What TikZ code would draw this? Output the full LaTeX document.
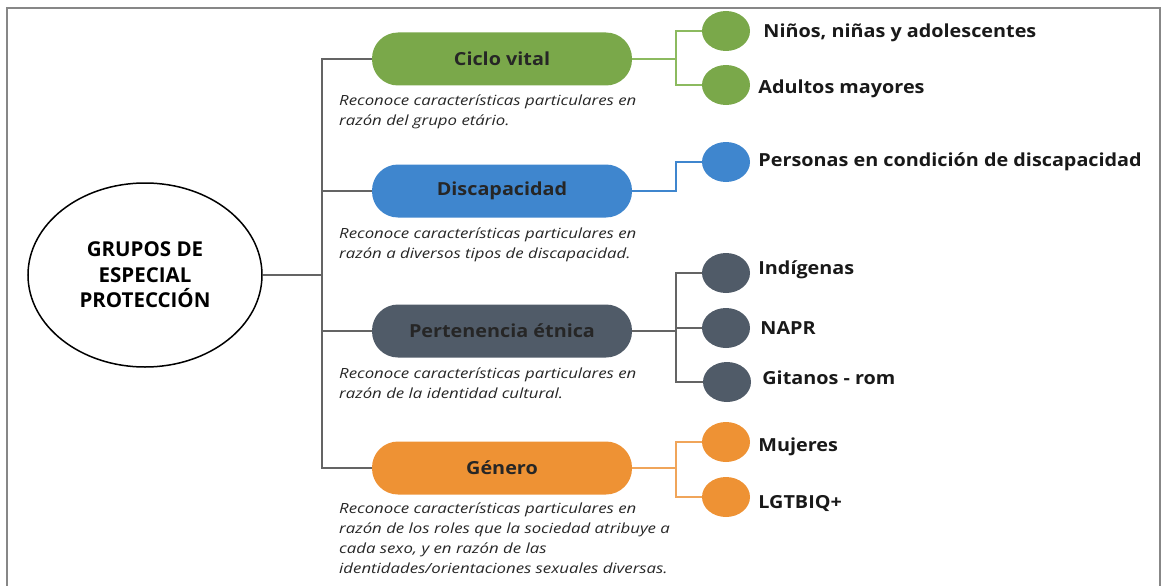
\documentclass[tikz,border=0pt]{standalone}
\usepackage{fontspec}
\setmainfont{Open Sans}[FakeStretch=1.1]
\newfontfamily\rootfont{Open Sans}
\newfontfamily\descfont{Open Sans}[FakeStretch=1.2]
\usetikzlibrary{shapes.geometric}
\definecolor{cgreen}{RGB}{122,168,74}
\definecolor{cblue}{RGB}{63,134,206}
\definecolor{cslate}{RGB}{80,91,104}
\definecolor{corange}{RGB}{238,146,52}
\definecolor{lgreen}{RGB}{140,186,95}
\definecolor{lorange}{RGB}{240,165,90}
\definecolor{frame}{RGB}{135,135,135}
\definecolor{conn}{RGB}{100,100,100}
\begin{document}
\begin{tikzpicture}[x=1pt,y=-1pt,
  pill/.style={rectangle, rounded corners=26pt, minimum width=260pt, minimum height=53pt, inner sep=0pt, font=\bfseries\fontsize{18}{20}\selectfont, text=black!85},
  dot/.style={ellipse, minimum width=48pt, minimum height=40pt, inner sep=0pt},
  lab/.style={anchor=west, inner sep=0pt, font=\bfseries\fontsize{18}{20}\selectfont, text=black!90},
  desc/.style={anchor=north west, inner sep=0pt, align=left, font=\descfont\itshape\fontsize{14}{20}\selectfont, text=black!85},
  mainconn/.style={draw=conn, line width=1.8pt},
]
\useasboundingbox (0,0) rectangle (1165,586);
% frame
\draw[frame, line width=1.5pt] (7,586) -- (7,8) -- (1160,8) -- (1160,586);
% root
\node[ellipse, draw, line width=1.5pt, minimum width=234pt, minimum height=184pt, inner sep=0pt, align=center, font=\rootfont\bfseries\fontsize{20.5}{25.5}\selectfont] (root) at (145,275) {GRUPOS DE\\ESPECIAL\\PROTECCIÓN};
% category pills
\node[pill, fill=cgreen] (c1) at (502,59) {Ciclo vital};
\node[pill, fill=cblue] (c2) at (502,191) {Discapacidad};
\node[pill, fill=cslate] (c3) at (502,331) {Pertenencia étnica};
\node[pill, fill=corange] (c4) at (502,468) {Género};
\coordinate (tm) at (322,275);
\draw[mainconn] (root.east) -- (tm);
\draw[mainconn] (c1.west) -- (c1.west -| tm) -- (c4.west -| tm) -- (c4.west);
\draw[mainconn] (c2.west) -- (c2.west -| tm);
\draw[mainconn] (c3.west) -- (c3.west -| tm);
% descriptions
\node[desc] (d1) at (339,95) {Reconoce características particulares en\\razón del grupo etário.};
\node[desc] (d2) at (339,228) {Reconoce características particulares en\\razón a diversos tipos de discapacidad.};
\node[desc] (d3) at (339,368) {Reconoce características particulares en\\razón de la identidad cultural.};
\node[desc] (d4) at (339,503) {Reconoce características particulares en\\razón de los roles que la sociedad atribuye a\\cada sexo, y en razón de las\\identidades/orientaciones sexuales diversas.};
% sub items
\coordinate (jx) at (676,0);
\node[dot, fill=cgreen] (s11) at (726,31) {};
\node[dot, fill=cgreen] (s12) at (726,85) {};
\node[dot, fill=cblue] (s21) at (726,162) {};
\node[dot, fill=cslate] (s31) at (726,273) {};
\node[dot, fill=cslate] (s32) at (726,328) {};
\node[dot, fill=cslate] (s33) at (727,382) {};
\node[dot, fill=corange] (s41) at (726,442) {};
\node[dot, fill=corange] (s42) at (726,497) {};
\node[lab] at ([xshift=13pt,yshift=-2pt]s11.east) {Niños, niñas y adolescentes};
\node[lab] at ([xshift=8pt,yshift=-4pt]s12.east) {Adultos mayores};
\node[lab] at ([xshift=8pt]s21.east) {Personas en condición de discapacidad};
\node[lab] at ([xshift=8pt,yshift=3pt]s31.east) {Indígenas};
\node[lab] at ([xshift=10pt]s32.east) {NAPR};
\node[lab] at ([xshift=11pt,yshift=4pt]s33.east) {Gitanos - rom};
\node[lab] at ([xshift=8pt,yshift=-5pt]s41.east) {Mujeres};
\node[lab] at ([xshift=8pt,yshift=-6pt]s42.east) {LGTBIQ+};
% right connectors
\draw[draw=lgreen, line width=1.8pt] (c1.east) -- (c1.east -| jx);
\draw[draw=lgreen, line width=1.8pt] (s11.west) -- (s11.west -| jx) -- (s12.west -| jx) -- (s12.west);
\draw[draw=cblue, line width=1.8pt] (c2.east) -- (c2.east -| jx) -- (s21.west -| jx) -- (s21.west);
\draw[mainconn] (c3.east) -- (c3.east -| jx);
\draw[mainconn] (s31.west) -- (s31.west -| jx) -- (s33.west -| jx) -- (s33.west);
\draw[mainconn] (s32.west -| jx) -- (s32.west);
\draw[draw=lorange, line width=1.8pt] (c4.east) -- (c4.east -| jx);
\draw[draw=lorange, line width=1.8pt] (s41.west) -- (s41.west -| jx) -- (s42.west -| jx) -- (s42.west);
\end{tikzpicture}
\end{document}
